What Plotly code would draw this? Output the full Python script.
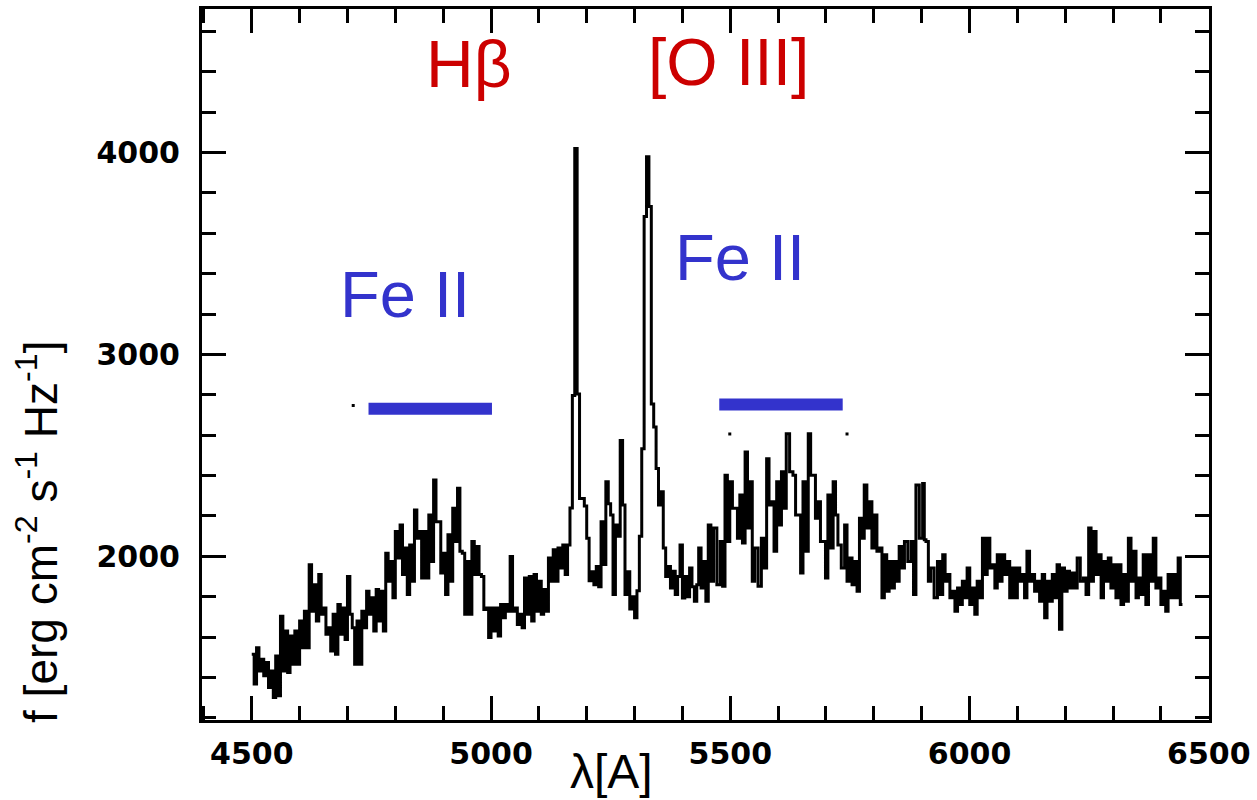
import plotly.graph_objects as go

# ---------------- data ----------------
# blue continuum: 10 A bins starting at 4500, each with a high and low excursion
blue_start = 4500
blue_hi = [1516,1548,1491,1475,1433,1507,1704,1631,1606,1631,1680,1729,1959,1860,1910,1745,1647,1713,1762,1745,
           1901,1647,1680,1729,1828,1795,1836,1828,2016,1975,2123,2156,2041,2057,2230,2123,2123,2205,2378,2172,
           2016,2107,2238,2337,2016,1975,2074,2049,1901,1745,1745,1745,1762,1762,2000,1745,1713,1893,1901,1910,
           1877,1836,1992,2033,2041,2057]
blue_lo = [1368,1433,1409,1351,1302,1310,1433,1425,1466,1466,1548,1548,1729,1680,1713,1614,1532,1516,1614,1589,
           1713,1466,1466,1647,1713,1631,1680,1631,1877,1795,1992,1910,1811,1877,2090,1893,1893,1975,2172,1918,
           1811,1877,2074,2025,1713,1713,1910,1910,1737,1598,1631,1606,1696,1729,1729,1663,1647,1713,1680,1729,
           1713,1729,1877,1877,1943,1910]

# emission-line region, 5 A samples from 5160 to 5430
line_wave0 = 5160
line_flux = [2057,2240,2796,4019,2804,2287,2287,2250,2090,1880,1924,1860,1950,1850,2172,1960,2369,2260,2205,1811,
             2156,2100,2574,2254,1811,1924,1740,1800,1696,1830,2100,2533,3683,3978,3732,2755,2640,2435,2254,2320,
             2041,1900,1950,1844,1926,1811,1900,2057,1794,1900,1800,1942,1850,1778,1860]

# red continuum: bins (start wavelength) with high and low excursion
red_start = [5434,5444,5454,5465,5479,5489,5499,5510,5520,5531,5541,5551,5565,5576,5586,5597,5607,5617,5631,5642,
             5652,5663,5673,5683,5694,5704,5715,5725,5739,5749,5760,5770,5780,5791,5801,5812,5822,5832,5843,5853,
             5864,5878,5888,5902,5909,5919,5933,5944,5954,5964,5975,5985,5995,6006,6016,6027,6037,6048,6058,6068,
             6079,6089,6100,6110,6120,6131,6141,6152,6162,6173,6183,6193,6204,6214,6225,6238,6249,6259,6270,6280,
             6290,6301,6311,6322,6332,6343,6353,6363,6374,6384,6395,6405,6415,6426,6436]
red_end = 6445
red_hi = [2041,1975,2156,2140,2074,2402,2369,2238,2304,2517,2369,2041,2090,2484,2271,2369,2419,2607,2402,2205,
          2369,2607,2402,2271,2074,2304,2369,2057,2156,1992,1975,2189,2353,2271,2205,2041,2008,1975,1975,2049,
          2074,2074,2353,2361,2074,1943,1975,2008,1910,1828,1844,1877,1943,1844,1877,2090,2090,1959,2008,2008,
          1975,1943,1943,1910,2025,1910,1877,1910,1877,1910,1959,1943,1926,1918,1992,1893,2140,2123,2008,1975,
          1992,1959,1959,1910,2090,2025,1893,2008,2008,2090,1893,1828,1910,1910,1992]
red_lo = [1844,1778,1877,1860,1852,2074,2238,2090,2066,2140,1877,1852,1943,2254,2025,2156,2238,2419,2205,1918,
          2025,2402,2189,2074,1893,2041,2205,1943,1877,1860,1828,2090,2140,2041,2025,1795,1828,1844,1877,1943,
          1975,1811,2090,2082,1877,1795,1811,1877,1795,1729,1762,1795,1762,1713,1795,1910,1943,1844,1877,1910,
          1795,1795,1877,1795,1877,1828,1778,1696,1778,1795,1639,1828,1844,1844,1877,1811,1877,1910,1795,1877,
          1844,1795,1762,1778,1877,1795,1811,1762,1877,1844,1762,1729,1795,1795,1762]

# Fe II band markers
feii_bands = [(4744, 5002, 2731), (5477, 5735, 2752)]
# small stray marks in the figure
dot_wave = [4712, 5499, 5744]
dot_flux = [2747, 2606, 2606]

x_ticks = [4500, 5000, 5500, 6000, 6500]
y_ticks = [2000, 3000, 4000]

# ---------------- build spectrum ----------------
xs, ys = [], []
for i in range(len(blue_hi)):
    s = blue_start + 10 * i
    xs += [s, s + 5]
    ys += [blue_hi[i], blue_lo[i]]
for i, f in enumerate(line_flux):
    xs.append(line_wave0 + 5 * i)
    ys.append(f)
for i, s in enumerate(red_start):
    e = red_start[i + 1] if i + 1 < len(red_start) else red_end
    xs += [s, (s + e) / 2]
    ys += [red_hi[i], red_lo[i]]
xs.append(red_end)
ys.append(red_lo[-1])

fig = go.Figure()
fig.add_trace(go.Scatter(x=xs, y=ys, mode="lines", line=dict(color="black", width=3, shape="hv"),
                         showlegend=False, hoverinfo="skip"))
for (a, b, f) in feii_bands:
    fig.add_trace(go.Scatter(x=[a, b], y=[f, f], mode="lines", line=dict(color="#3333cc", width=12),
                             showlegend=False, hoverinfo="skip"))
fig.add_trace(go.Scatter(x=dot_wave, y=dot_flux, mode="markers",
                         marker=dict(color="black", size=3, symbol="square"), showlegend=False, hoverinfo="skip"))

sans = "Liberation Sans, Arial, sans-serif"
tickfont = dict(family="DejaVu Sans", size=30, color="black", weight="bold")

fig.update_xaxes(range=[4396, 6500.5], tickvals=x_ticks, ticktext=[str(v) for v in x_ticks],
                 ticks="inside", ticklen=24, tickwidth=3, tickcolor="black", showline=True, linewidth=3,
                 linecolor="black", mirror="ticks", showgrid=False, zeroline=False, tickfont=tickfont,
                 ticklabelstandoff=5,
                 minor=dict(dtick=100, ticks="inside", ticklen=14, tickwidth=3, tickcolor="black", showgrid=False))
fig.update_yaxes(range=[1190, 4710], tickvals=y_ticks, ticktext=[str(v) for v in y_ticks],
                 ticks="inside", ticklen=24, tickwidth=3, tickcolor="black", showline=True, linewidth=3,
                 linecolor="black", mirror="ticks", showgrid=False, zeroline=False, tickfont=tickfont,
                 ticklabelstandoff=13,
                 minor=dict(dtick=200, ticks="inside", ticklen=14, tickwidth=3, tickcolor="black", showgrid=False))

annos = [
    dict(text="Hβ", x=4954, y=4437, font=dict(family=sans, size=66, color="#cc0000")),
    dict(text="[O III]", x=5496, y=4447, font=dict(family=sans, size=66, color="#cc0000")),
    dict(text="Fe II", x=4821, y=3295, font=dict(family=sans, size=65, color="#3333cc")),
    dict(text="Fe II", x=5521, y=3482, font=dict(family=sans, size=65, color="#3333cc")),
]
for a in annos:
    fig.add_annotation(xref="x", yref="y", showarrow=False, xanchor="center", yanchor="middle", **a)

fig.add_annotation(text="λ[A]", xref="paper", yref="paper", x=0.4067, y=-0.072, showarrow=False,
                   xanchor="center", yanchor="middle", font=dict(family=sans, size=48, color="black"))
fig.add_annotation(text="f [erg cm<sup>-2</sup> s<sup>-1</sup> Hz<sup>-1</sup>]", xref="paper", yref="paper",
                   x=-0.1637, y=0.2647, showarrow=False, textangle=-90, xanchor="center", yanchor="middle",
                   font=dict(family=sans, size=46, color="black"))

fig.update_layout(width=1257, height=800, margin=dict(l=202, r=47, t=6, b=80),
                  plot_bgcolor="white", paper_bgcolor="white")
fig.write_html("out.html")
